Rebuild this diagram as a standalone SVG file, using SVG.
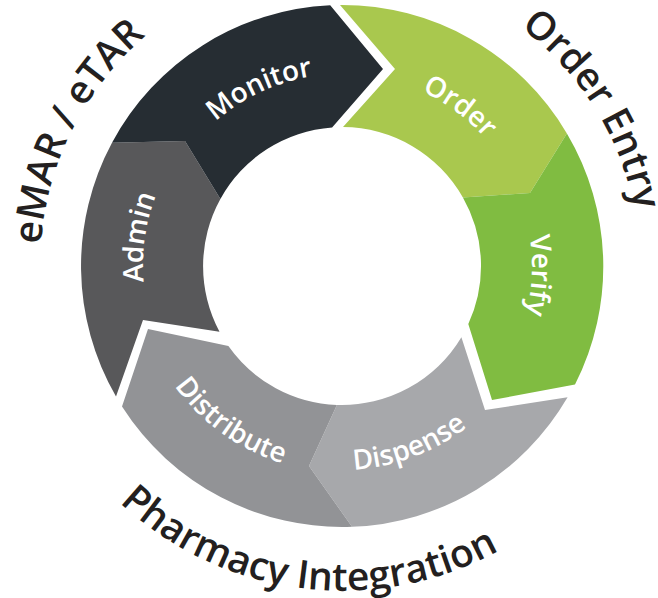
<svg xmlns="http://www.w3.org/2000/svg" xmlns:xlink="http://www.w3.org/1999/xlink" width="658" height="598" viewBox="0 0 658 598">
<style>
.lbl{font-family:"Open Sans","Liberation Sans",sans-serif;font-weight:600;font-size:28px;fill:#ffffff}
.out{font-family:"Open Sans","Liberation Sans",sans-serif;font-weight:600;font-size:39px;fill:#231f20}
</style>
<defs>
<path id="pMonitor" d="M168.0,184.9 A192,192 0 0 1 391.7,80.5"/>
<path id="pOrder" d="M329.9,74.4 A192,192 0 0 1 528.6,220.9"/>
<path id="pVerify" d="M493.1,150.9 A190,190 0 0 1 481.6,394.9"/>
<path id="pDispense" d="M274.2,458.4 A204,204 0 0 0 519.7,366.1"/>
<path id="pDistribute" d="M142.5,317.2 A206,206 0 0 0 357.8,471.4"/>
<path id="pAdmin" d="M173.0,371.2 A199,199 0 0 1 209.1,117.9"/>
<path id="pEmar" d="M40.6,282.0 A303,303 0 0 1 175.7,13.2"/>
<path id="pOrderEntry" d="M481.9,2.9 A298,298 0 0 1 639.8,255.6"/>
<path id="pPharm" d="M107.2,490.0 A325,325 0 0 0 514.2,541.6"/>
</defs>
<rect width="658" height="598" fill="#ffffff"/>
<g id="order">
<path fill="#a9c84e" d="M340,5 A261,261 0 0 1 566.9,133.5 L530,193 L462.9,197.4 A139,139 0 0 0 343,127 L395,69 Z"/>
<text class="lbl"><textPath xlink:href="#pOrder" href="#pOrder" startOffset="50%" text-anchor="middle">Order</textPath></text>
</g>
<g id="verify">
<path fill="#80bc41" d="M566.9,133.5 A261,261 0 0 1 575.0,384.6 L492,400 L468.3,324.1 A139,139 0 0 0 462.9,197.4 L530,193 Z"/>
<text class="lbl"><textPath xlink:href="#pVerify" href="#pVerify" startOffset="50%" text-anchor="middle">Verify</textPath></text>
</g>
<g id="dispense">
<path fill="#a7a8ab" d="M567.6,397.3 A261,261 0 0 1 352,526.8 L309,466 L336.9,404.9 A139,139 0 0 0 461.4,337.2 L485,410 Z"/>
<text class="lbl"><textPath xlink:href="#pDispense" href="#pDispense" startOffset="50%" text-anchor="middle">Dispense</textPath></text>
</g>
<g id="distribute">
<path fill="#929396" d="M352,526.8 A261,261 0 0 1 122.0,406.6 L148,329 L228.4,346.1 A139,139 0 0 0 336.9,404.9 L309,466 Z"/>
<text class="lbl"><textPath xlink:href="#pDistribute" href="#pDistribute" startOffset="50%" text-anchor="middle">Distribute</textPath></text>
</g>
<g id="admin">
<path fill="#58585a" d="M116.0,396.5 A261,261 0 0 1 112.0,142.7 L185,141 L220.4,199.0 A139,139 0 0 0 219.5,331.7 L143,320 Z"/>
<text class="lbl"><textPath xlink:href="#pAdmin" href="#pAdmin" startOffset="50%" text-anchor="middle">Admin</textPath></text>
</g>
<g id="monitor">
<path fill="#262d33" d="M112.0,142.7 A261,261 0 0 1 330.2,5.3 L383,69 L332.1,127.4 A139,139 0 0 0 220.4,199.0 L185,141 Z"/>
<text class="lbl"><textPath xlink:href="#pMonitor" href="#pMonitor" startOffset="50%" text-anchor="middle">Monitor</textPath></text>
</g>
<g id="emar-etar">
<text class="out"><textPath xlink:href="#pEmar" href="#pEmar" startOffset="50%" text-anchor="middle">eMAR / eTAR</textPath></text>
</g>
<g id="order-entry">
<text class="out"><textPath xlink:href="#pOrderEntry" href="#pOrderEntry" startOffset="50%" text-anchor="middle">Order Entry</textPath></text>
</g>
<g id="pharmacy-integration">
<text class="out"><textPath xlink:href="#pPharm" href="#pPharm" startOffset="50%" text-anchor="middle">Pharmacy Integration</textPath></text>
</g>
<g id="connectors"></g>
</svg>
